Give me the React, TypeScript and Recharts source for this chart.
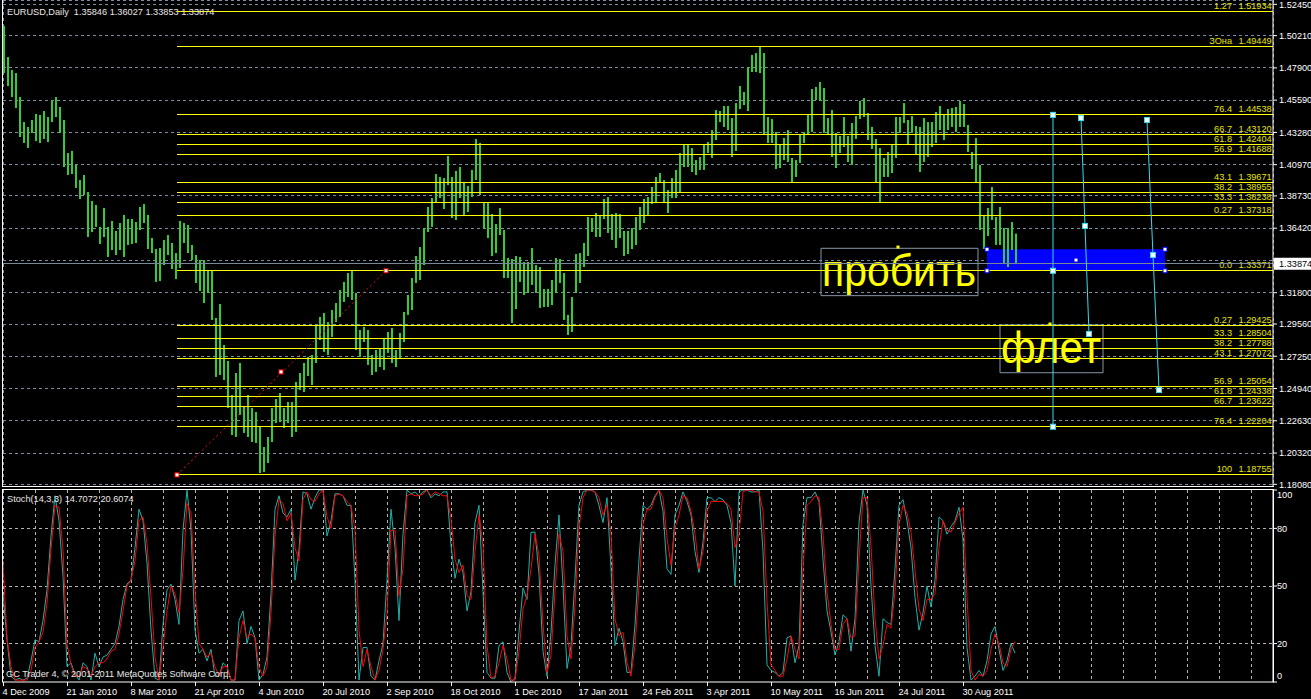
import React from 'react';
import { ComposedChart, Bar, Line, XAxis, YAxis, CartesianGrid, ReferenceLine, ReferenceArea, ReferenceDot } from 'recharts';

// EURUSD daily, one entry per two trading days (high / low)
const barHigh = [
  1.5090, 1.4868, 1.4775, 1.4753, 1.4581, 1.4402, 1.4367, 1.4417, 1.4460, 1.4453,
  1.4481, 1.4438, 1.4553, 1.4581, 1.4510, 1.4417, 1.4180, 1.4195, 1.4095, 1.3987,
  1.4023, 1.3901, 1.3837, 1.3808, 1.3651, 1.3787, 1.3651, 1.3694, 1.3622, 1.3679,
  1.3737, 1.3708, 1.3708, 1.3686, 1.3794, 1.3815, 1.3737, 1.3572, 1.3493, 1.3500,
  1.3557, 1.3593, 1.3536, 1.3464, 1.3694, 1.3679, 1.3665, 1.3522, 1.3450, 1.3414,
  1.3414, 1.3336, 1.3336, 1.2999, 1.3099, 1.2806, 1.2691, 1.2448, 1.2605, 1.2677,
  1.2362, 1.2448, 1.2355, 1.2326, 1.2219, 1.2075, 1.2147, 1.2355, 1.2419, 1.2462,
  1.2355, 1.2398, 1.2398, 1.2541, 1.2605, 1.2677, 1.2720, 1.2734, 1.2949, 1.3006,
  1.3035, 1.2970, 1.3056, 1.3106, 1.3199, 1.3257, 1.3321, 1.3343, 1.3178, 1.2913,
  1.2935, 1.2913, 1.2734, 1.2770, 1.2784, 1.2856, 1.2899, 1.2928, 1.2770, 1.2892,
  1.3042, 1.3164, 1.3285, 1.3443, 1.3507, 1.3643, 1.3794, 1.3858, 1.4030, 1.4009,
  1.4001, 1.4159, 1.4009, 1.4052, 1.4080, 1.3973, 1.3944, 1.4059, 1.4281, 1.4252,
  1.3829, 1.3822, 1.3744, 1.3672, 1.3787, 1.3629, 1.3429, 1.3421, 1.3443, 1.3436,
  1.3400, 1.3400, 1.3500, 1.3378, 1.3364, 1.3207, 1.3207, 1.3271, 1.3429, 1.3421,
  1.3321, 1.3021, 1.3149, 1.3457, 1.3464, 1.3536, 1.3722, 1.3715, 1.3751, 1.3737,
  1.3851, 1.3865, 1.3744, 1.3751, 1.3744, 1.3622, 1.3622, 1.3643, 1.3722, 1.3794,
  1.3851, 1.3865, 1.3937, 1.4009, 1.4037, 1.3987, 1.3915, 1.4001, 1.4059, 1.4180,
  1.4238, 1.4238, 1.4216, 1.4130, 1.4152, 1.4238, 1.4259, 1.4345, 1.4488, 1.4481,
  1.4517, 1.4517, 1.4431, 1.4538, 1.4660, 1.4617, 1.4796, 1.4882, 1.4896, 1.4939,
  1.4896, 1.4438, 1.4424, 1.4331, 1.4238, 1.4288, 1.4345, 1.4145, 1.4130, 1.4316,
  1.4331, 1.4453, 1.4639, 1.4653, 1.4689, 1.4646, 1.4431, 1.4488, 1.4324, 1.4302,
  1.4438, 1.4302, 1.4395, 1.4445, 1.4553, 1.4574, 1.4467, 1.4367, 1.4281, 1.4216,
  1.4145, 1.4188, 1.4238, 1.4438, 1.4438, 1.4538, 1.4417, 1.4445, 1.4374, 1.4367,
  1.4431, 1.4402, 1.4402, 1.4474, 1.4517, 1.4453, 1.4495, 1.4503, 1.4510, 1.4553,
  1.4531, 1.4381, 1.4188, 1.4288, 1.4095, 1.3737, 1.3787, 1.3937, 1.3722, 1.3794,
  1.3643, 1.3643, 1.3686, 1.3603,
];

const barLow = [
  1.4753, 1.4660, 1.4581, 1.4503, 1.4295, 1.4252, 1.4216, 1.4324, 1.4266, 1.4252,
  1.4281, 1.4259, 1.4402, 1.4438, 1.4324, 1.4080, 1.4023, 1.4030, 1.3930, 1.3851,
  1.3880, 1.3579, 1.3615, 1.3651, 1.3529, 1.3579, 1.3436, 1.3486, 1.3450, 1.3486,
  1.3436, 1.3522, 1.3529, 1.3536, 1.3629, 1.3679, 1.3493, 1.3464, 1.3257, 1.3264,
  1.3378, 1.3450, 1.3350, 1.3278, 1.3357, 1.3536, 1.3464, 1.3414, 1.3250, 1.3192,
  1.3106, 1.3178, 1.2985, 1.2577, 1.2591, 1.2555, 1.2355, 1.2161, 1.2147, 1.2305,
  1.2176, 1.2147, 1.2111, 1.2104, 1.1889, 1.1896, 1.1961, 1.2111, 1.2247, 1.2254,
  1.2211, 1.2247, 1.2147, 1.2183, 1.2483, 1.2469, 1.2584, 1.2519, 1.2677, 1.2841,
  1.2756, 1.2734, 1.2863, 1.2970, 1.3006, 1.3114, 1.3149, 1.3128, 1.2770, 1.2720,
  1.2827, 1.2663, 1.2591, 1.2613, 1.2648, 1.2627, 1.2749, 1.2677, 1.2648, 1.2713,
  1.2827, 1.3021, 1.3056, 1.3250, 1.3271, 1.3378, 1.3615, 1.3651, 1.3829, 1.3858,
  1.3779, 1.3951, 1.3715, 1.3701, 1.3858, 1.3737, 1.3758, 1.3865, 1.3987, 1.3880,
  1.3636, 1.3572, 1.3443, 1.3464, 1.3593, 1.3285, 1.3285, 1.2963, 1.3063, 1.3257,
  1.3164, 1.3178, 1.3236, 1.3178, 1.3071, 1.3078, 1.3078, 1.3092, 1.3178, 1.3250,
  1.2985, 1.2877, 1.2899, 1.3178, 1.3250, 1.3364, 1.3443, 1.3615, 1.3579, 1.3579,
  1.3708, 1.3608, 1.3557, 1.3500, 1.3572, 1.3443, 1.3457, 1.3493, 1.3522, 1.3629,
  1.3679, 1.3737, 1.3815, 1.3829, 1.3966, 1.3822, 1.3751, 1.3858, 1.3858, 1.3901,
  1.4080, 1.4080, 1.4044, 1.4023, 1.4059, 1.4059, 1.4180, 1.4145, 1.4273, 1.4402,
  1.4367, 1.4345, 1.4152, 1.4195, 1.4495, 1.4524, 1.4481, 1.4760, 1.4760, 1.4753,
  1.4309, 1.4252, 1.4252, 1.4066, 1.4073, 1.4130, 1.4116, 1.3966, 1.4009, 1.4109,
  1.4252, 1.4309, 1.4331, 1.4560, 1.4553, 1.4324, 1.4316, 1.4152, 1.4073, 1.4180,
  1.4223, 1.4116, 1.4095, 1.4281, 1.4424, 1.4438, 1.4273, 1.4209, 1.3966, 1.3822,
  1.4009, 1.4009, 1.4037, 1.4145, 1.4324, 1.4395, 1.4238, 1.4324, 1.4166, 1.4044,
  1.4116, 1.4152, 1.4223, 1.4252, 1.4345, 1.4273, 1.4345, 1.4367, 1.4331, 1.4367,
  1.4367, 1.4188, 1.4066, 1.3966, 1.3629, 1.3493, 1.3586, 1.3701, 1.3522, 1.3522,
  1.3393, 1.3364, 1.3486, 1.3385,
];

// Stochastic(14,3,3): main and signal, same sampling as the bars
const stochMain = [
  46, 22, 3, 1, 2, 1, 2, 11, 22, 21,
  32, 48, 76, 97, 84, 55, 8, 10, 4, 1,
  10, 8, 1, 15, 8, 13, 14, 17, 20, 29,
  43, 51, 53, 70, 90, 84, 62, 27, 2, 1,
  30, 48, 51, 43, 30, 79, 100, 79, 27, 15,
  17, 11, 17, 3, 3, 10, 8, 1, 1, 32,
  37, 20, 29, 23, 1, 4, 13, 46, 90, 97,
  88, 86, 90, 53, 69, 99, 98, 90, 96, 100,
  100, 76, 84, 98, 98, 97, 92, 92, 53, 1,
  18, 18, 3, 1, 11, 20, 53, 90, 70, 32,
  77, 100, 98, 99, 97, 99, 100, 96, 98, 97,
  99, 99, 71, 54, 64, 57, 37, 47, 83, 92,
  47, 5, 2, 2, 19, 21, 5, 0, 2, 26,
  49, 43, 78, 78, 56, 16, 3, 26, 61, 87,
  50, 7, 19, 54, 92, 99, 100, 100, 99, 92,
  83, 96, 59, 19, 28, 21, 5, 5, 30, 64,
  92, 90, 92, 97, 100, 89, 59, 56, 87, 92,
  99, 94, 87, 68, 57, 73, 96, 96, 94, 96,
  95, 92, 83, 50, 99, 100, 100, 99, 99, 100,
  68, 9, 6, 5, 3, 5, 23, 24, 10, 19,
  82, 96, 96, 99, 94, 64, 37, 26, 14, 21,
  35, 33, 16, 33, 83, 100, 92, 50, 19, 3,
  33, 31, 30, 59, 92, 95, 84, 70, 44, 27,
  36, 50, 39, 53, 86, 84, 77, 81, 84, 91,
  74, 18, 1, 3, 6, 3, 11, 25, 29, 17,
  6, 11, 20, 15,
];

const stochSignal = [
  63, 23, 8, 1, 1, 1, 1, 6, 18, 21,
  26, 41, 69, 92, 91, 69, 20, 9, 3, 3,
  8, 7, 3, 8, 10, 10, 12, 16, 17, 25,
  37, 50, 53, 63, 84, 86, 72, 44, 13, 1,
  18, 37, 50, 46, 36, 58, 93, 88, 48, 20,
  17, 13, 15, 8, 3, 8, 8, 1, 1, 23,
  32, 23, 25, 23, 8, 3, 8, 36, 76, 95,
  93, 84, 88, 70, 63, 95, 99, 95, 94, 98,
  100, 86, 80, 97, 98, 97, 94, 92, 79, 27,
  8, 17, 8, 1, 6, 17, 36, 79, 79, 45,
  59, 97, 98, 97, 97, 98, 100, 97, 99, 98,
  97, 97, 85, 64, 57, 61, 45, 43, 68, 87,
  71, 19, 2, 3, 10, 19, 12, 1, 1, 16,
  38, 45, 59, 77, 66, 30, 5, 14, 47, 77,
  68, 24, 12, 40, 80, 96, 100, 100, 99, 96,
  87, 92, 77, 33, 24, 26, 10, 3, 19, 50,
  82, 90, 90, 96, 100, 96, 75, 61, 80, 87,
  97, 96, 89, 77, 59, 68, 89, 94, 94, 94,
  94, 93, 90, 70, 77, 99, 100, 100, 99, 99,
  89, 42, 9, 6, 3, 3, 12, 24, 17, 12,
  59, 92, 94, 97, 96, 77, 47, 30, 17, 17,
  30, 33, 23, 24, 64, 96, 96, 71, 33, 12,
  19, 30, 28, 47, 82, 92, 88, 78, 58, 38,
  32, 43, 43, 46, 70, 84, 79, 78, 83, 88,
  91, 44, 6, 1, 4, 3, 6, 17, 25, 20,
  10, 8, 17, 21,
];

const dateLabels = [
  '4 Dec 2009', '21 Jan 2010', '8 Mar 2010', '21 Apr 2010', '4 Jun 2010', '20 Jul 2010',
  '2 Sep 2010', '18 Oct 2010', '1 Dec 2010', '17 Jan 2011', '24 Feb 2011', '3 Apr 2011',
  '10 May 2011', '16 Jun 2011', '24 Jul 2011', '30 Aug 2011',
];

const priceTicks = [
  1.5245, 1.5021, 1.479, 1.4559, 1.4328, 1.4097, 1.3873, 1.3642,
  1.3411, 1.318, 1.2956, 1.2725, 1.2494, 1.2263, 1.2032, 1.1808,
];
const stochTicks = [0, 20, 50, 80, 100];

const fibNames = ['1.27', 'ЗОна', '76.4', '66.7', '61.8', '56.9', '43.1', '38.2', '33.3', '0.27',
  '0.0', '0.27', '33.3', '38.2', '43.1', '56.9', '61.8', '66.7', '76.4', '100'];
const fibValues = [1.51934, 1.49449, 1.44538, 1.4312, 1.42404, 1.41688, 1.39671, 1.38955, 1.38238, 1.37318,
  1.33371, 1.29425, 1.28504, 1.27788, 1.27072, 1.25054, 1.24338, 1.23622, 1.22204, 1.18755];
const fibFrom = 87;

const lastQuote = { open: 1.35846, high: 1.36027, low: 1.33853, close: 1.33874 };
const stochLast = { main: 14.7072, signal: 20.6074 };

// drawn objects (bar index, price)
const trendLine = [{ i: 87, p: 1.18755 }, { i: 139, p: 1.2613 }, { i: 191.5, p: 1.33371 }];
const cyanLines = [
  [{ i: 525, p: 1.44538 }, { i: 525, p: 1.33371 }, { i: 525, p: 1.22204 }],
  [{ i: 539, p: 1.4431 }, { i: 541, p: 1.3658 }, { i: 543, p: 1.2885 }],
  [{ i: 572, p: 1.4417 }, { i: 575, p: 1.345 }, { i: 578, p: 1.2483 }],
];
const zone = { i1: 492, i2: 581, p1: 1.33371, p2: 1.3491 };
const notes = [
  { txt: 'пробить', i1: 409, i2: 487.5, p1: 1.3498, p2: 1.3159, ai: 447.5, ap: 1.3507 },
  { txt: 'флет', i1: 498.5, i2: 550, p1: 1.2949, p2: 1.2607, ai: 523.5, ap: 1.2956 },
];

const FONT = '"Liberation Sans", Arial, sans-serif';
const W = 1311;
const X_MAX = 635;

const bars = barHigh.map((h, k) => ({ i: k * 2, range: [barLow[k], h] }));
const stoch = stochMain.map((v, k) => ({ i: k * 2, main: v, signal: stochSignal[k] }));
const gridTicks = Array.from({ length: 40 }, (_, j) => j * 16);

const HiLo = (p: any) => {
  const { x, y, width, height } = p;
  if (x == null || y == null) return <g />;
  const top = height < 0 ? y + height : y;
  return <rect x={x + width / 2} y={top} width={2} height={Math.max(Math.abs(height), 1)} fill="#33cc33" />;
};

const handle = (fill: string, stroke: string, s: number) => (p: any) => (
  <rect x={p.cx - s / 2} y={p.cy - s / 2} width={s} height={s} fill={fill} stroke={stroke} strokeWidth={1} />
);

const PriceTick = (p: any) => {
  const v = p.payload.value;
  if (Math.abs(v - lastQuote.close) < 0.004) return <g />;
  return <text x={p.x} y={p.y + 3.3} fill="#fff" fontSize={9.2} fontFamily={FONT}>{v.toFixed(5)}</text>;
};

const StochTick = (p: any) => {
  const v = p.payload.value;
  const dy = v === 100 ? 8 : v === 0 ? -3 : 3.3;
  return <text x={p.x} y={p.y + dy} fill="#fff" fontSize={9.2} fontFamily={FONT}>{v}</text>;
};

const DateTick = (p: any) => {
  const n = p.payload.value / 32;
  if (!Number.isInteger(n) || n >= dateLabels.length) return <g />;
  return (
    <g>
      <line x1={p.x + 0.5} x2={p.x + 0.5} y1={p.y} y2={p.y + 4} stroke="#fff" />
      <text x={p.x - 0.5} y={p.y + 13} fill="#fff" fontSize={9.2} fontFamily={FONT}>{dateLabels[n]}</text>
    </g>
  );
};

const FibLabel = (p: any) => {
  const vb = p.viewBox || {};
  const right = (vb.x ?? 0) + (vb.width ?? 0);
  const y = vb.y ?? 0;
  return (
    <g fontFamily={FONT} fontSize={9.2} fill="#e6e600">
      <text x={right - 41} y={y - 2.5} textAnchor="end">{p.lvl}</text>
      <text x={right - 1.3} y={y - 2.5} textAnchor="end">{p.val}</text>
    </g>
  );
};

const PriceBox = (p: any) => {
  const vb = p.viewBox || {};
  const right = (vb.x ?? 0) + (vb.width ?? 0);
  const y = vb.y ?? 0;
  return (
    <g>
      <rect x={right + 1} y={y - 6} width={38} height={12} fill="#fff" />
      <text x={right + 6} y={y + 3.5} fill="#000" fontSize={9.2} fontFamily={FONT}>{p.txt}</text>
    </g>
  );
};

const NoteLabel = (p: any) => {
  const vb = p.viewBox || {};
  return (
    <text x={vb.x + 1} y={vb.y + vb.height - 9.5} fontSize={44} fontFamily={FONT} fill="#ffff00"
      textLength={vb.width - 3} lengthAdjust="spacingAndGlyphs">{p.txt}</text>
  );
};

export default function App() {
  const small = { fontFamily: FONT, fontSize: 9.2, fill: '#e8e8e8', whiteSpace: 'pre' as const };
  return (
    <div style={{ position: 'absolute', left: 0, top: 0, width: W, height: 699, background: '#000', overflow: 'hidden' }}>
      <div style={{ position: 'absolute', left: 0, top: 0 }}>
        <ComposedChart width={W} height={490} data={bars} margin={{ top: 0, right: 0, bottom: 4, left: 3 }}>
          <CartesianGrid stroke="#7d8ea0" strokeDasharray="3 3" shapeRendering="crispEdges" />
          <XAxis type="number" dataKey="i" domain={[0, X_MAX]} ticks={gridTicks} interval={0} height={0}
            tick={false} axisLine={false} tickLine={false} />
          <YAxis orientation="right" type="number" domain={[1.1796, 1.5276]} allowDataOverflow ticks={priceTicks}
            interval={0} width={38} axisLine={{ stroke: '#fff' }} tickLine={{ stroke: '#fff' }} tickSize={4}
            tickMargin={2} tick={<PriceTick />} />
          <ReferenceArea x1={zone.i1} x2={zone.i2} y1={zone.p1} y2={zone.p2} fill="#0000ff" fillOpacity={1} stroke="none" />
          {notes.map((n) => (
            <ReferenceArea key={n.txt} x1={n.i1} x2={n.i2} y1={n.p1} y2={n.p2} fill="none" fillOpacity={0}
              stroke="#8596a8" label={<NoteLabel txt={n.txt} />} />
          ))}
          {fibValues.map((v, n) => (
            <ReferenceLine key={'f' + n} segment={[{ x: fibFrom, y: v }, { x: X_MAX, y: v }]} stroke="#ffff00"
              shapeRendering="crispEdges" label={<FibLabel lvl={fibNames[n]} val={v.toFixed(5)} />} />
          ))}
          <ReferenceLine y={lastQuote.close} stroke="#778899" shapeRendering="crispEdges"
            label={<PriceBox txt={lastQuote.close.toFixed(5)} />} />
          <ReferenceLine segment={[{ x: trendLine[0].i, y: trendLine[0].p }, { x: trendLine[2].i, y: trendLine[2].p }]}
            stroke="#ff0000" strokeDasharray="2 3" />
          {cyanLines.map((l, n) => (
            <React.Fragment key={'c' + n}>
              <ReferenceLine segment={[{ x: l[0].i, y: l[0].p }, { x: l[1].i, y: l[1].p }]} stroke="#35dcef" />
              <ReferenceLine segment={[{ x: l[1].i, y: l[1].p }, { x: l[2].i, y: l[2].p }]} stroke="#35dcef" />
            </React.Fragment>
          ))}
          <Bar dataKey="range" barSize={2} shape={<HiLo />} isAnimationActive={false} />
          {trendLine.map((d, n) => (
            <ReferenceDot key={'t' + n} x={d.i} y={d.p} r={2} shape={handle('#fff', '#ff0000', 4)} />
          ))}
          {cyanLines.flat().map((d, n) => (
            <ReferenceDot key={'h' + n} x={d.i} y={d.p} r={2} shape={handle('#fff', '#35dcef', 5)} />
          ))}
          {[[zone.i1, zone.p1], [zone.i1, zone.p2], [zone.i2, zone.p1], [zone.i2, zone.p2]].map(([i, p], n) => (
            <ReferenceDot key={'z' + n} x={i} y={p} r={2} shape={handle('#fff', '#0000ff', 4)} />
          ))}
          <ReferenceDot x={(zone.i1 + zone.i2) / 2} y={(zone.p1 + zone.p2) / 2} r={1} shape={handle('#fff', 'none', 3)} />
          {notes.map((n) => (
            <ReferenceDot key={'a' + n.txt} x={n.ai} y={n.ap} r={1} shape={handle('#ffff00', 'none', 3)} />
          ))}
        </ComposedChart>
      </div>
      <div style={{ position: 'absolute', left: 0, top: 484 }}>
        <ComposedChart width={W} height={215} data={stoch} margin={{ top: 6, right: 0, bottom: 0, left: 3 }}>
          <CartesianGrid stroke="#b4b4b4" strokeDasharray="3 3" horizontalValues={[20, 50, 80]} shapeRendering="crispEdges" />
          <XAxis type="number" dataKey="i" domain={[0, X_MAX]} ticks={gridTicks} interval={0} height={17}
            tick={<DateTick />} axisLine={false} tickLine={false} tickSize={0} tickMargin={0} />
          <YAxis orientation="right" type="number" domain={[0, 100]} ticks={stochTicks} interval={0} width={38}
            axisLine={{ stroke: '#fff' }} tickLine={{ stroke: '#fff' }} tickSize={4} tickMargin={0} tick={<StochTick />} />
          <Line type="linear" dataKey="main" stroke="#20b2aa" strokeWidth={1} dot={false} isAnimationActive={false} />
          <Line type="linear" dataKey="signal" stroke="#ff0000" strokeWidth={1} dot={false} isAnimationActive={false} />
        </ComposedChart>
      </div>
      <svg width={W} height={699} style={{ position: 'absolute', left: 0, top: 0, pointerEvents: 'none' }}>
        <line x1={2.5} y1={0} x2={2.5} y2={487} stroke="#fff" />
        <line x1={2} y1={486.5} x2={1274} y2={486.5} stroke="#fff" />
        <rect x={2.5} y={489.5} width={1271} height={192.5} fill="none" stroke="#fff" />
        <text x={7} y={14.5} style={small}>
          {`EURUSD,Daily  ${lastQuote.open.toFixed(5)} ${lastQuote.high.toFixed(5)} ${lastQuote.low.toFixed(5)} ${lastQuote.close.toFixed(5)}`}
        </text>
        <text x={7} y={502} style={small}>{`Stoch(14,3,3) ${stochLast.main.toFixed(4)} ${stochLast.signal.toFixed(4)}`}</text>
        <text x={6} y={677} style={small}>GC Trader 4, © 2001-2011 MetaQuotes Software Corp.</text>
      </svg>
    </div>
  );
}
